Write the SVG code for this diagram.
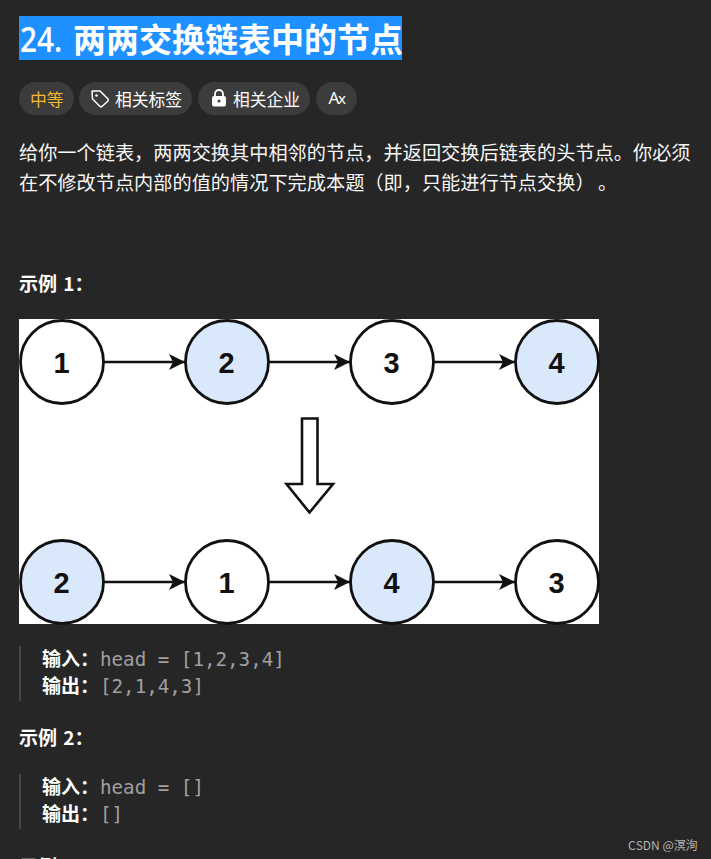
<svg xmlns="http://www.w3.org/2000/svg" width="711" height="859" viewBox="0 0 711 859">
<style>
text{font-family:"Noto Sans CJK SC","Noto Sans",sans-serif;fill:#fff;font-kerning:none;font-feature-settings:"chws" 0,"halt" 0,"palt" 0}
.body{font-size:19.2px;fill:#f7f7f7}
.b{font-size:19px;font-weight:700}
.c{font-family:"DejaVu Sans Mono",monospace;font-size:19.2px;fill:#a0a0a0}
.tag{font-size:16.8px}
.pill{fill:#3c3c3c}
.n{stroke:#111;stroke-width:2.8}
.w{fill:#fff}.l{fill:#dae8fc}
.num{font-family:"Liberation Sans",sans-serif;font-size:29px;font-weight:700;fill:#111;text-anchor:middle}
.e{stroke:#111;stroke-width:2.6;fill:none;marker-end:url(#a)}
</style>
<defs><marker id="a" markerUnits="userSpaceOnUse" markerWidth="18" markerHeight="18" refX="16" refY="9" orient="auto"><path d="M0 1L16 9L0 17L4 9Z" fill="#111"/></marker></defs>
<rect width="711" height="859" fill="#262626"/>
<rect x="19" y="16" width="383" height="44" fill="#1e90ff"/>
<text x="20" y="52" font-size="34" font-weight="600" textLength="42" lengthAdjust="spacingAndGlyphs" style="font-family:'Open Sans',sans-serif">24.</text>
<text x="73" y="52" font-size="33" font-weight="700">两两交换链表中的节点</text>
<g id="tag-level"><rect class="pill" x="19" y="82" width="55" height="33" rx="16.5"/><text class="tag" x="30" y="106" style="fill:#f5b82e">中等</text></g>
<g id="tag-labels"><rect class="pill" x="79" y="82" width="113" height="33" rx="16.5"/><path d="M92 91.500Q92 91 93 91L100 91L108 99Q108.500 100 108 101L102 106.500Q101 107 100 106.500L92.500 99Z" fill="none" stroke="#fff" stroke-width="1.500"/><circle cx="96.500" cy="95.500" r="1.300" fill="#fff"/><text class="tag" x="115" y="106">相关标签</text></g>
<g id="tag-company"><rect class="pill" x="198" y="82" width="112" height="33" rx="16.5"/><path d="M215 97v-3a4 4 0 0 1 8 0v3" fill="none" stroke="#fff" stroke-width="1.800"/><rect x="212" y="96" width="14" height="10.500" rx="2" fill="#fff"/><circle cx="219" cy="101" r="1.500" fill="#3c3c3c"/><text class="tag" x="233" y="106">相关企业</text></g>
<g id="tag-font"><rect class="pill" x="316" y="82" width="41" height="33" rx="16.5"/><text x="328.500" y="104" font-size="17" style="font-family:'Noto Sans',sans-serif">A</text><text x="338" y="104" font-size="15" style="font-family:'Noto Sans',sans-serif">x</text></g>
<text class="body" x="19" y="160">给你一个链表，两两交换其中相邻的节点，并返回交换后链表的头节点。你必须</text>
<text class="body" x="19" y="190">在不修改节点内部的值的情况下完成本题（即，只能进行节点交换）<tspan x="598">。</tspan></text>
<text class="b" x="19" y="291" word-spacing="2">示例 1：</text>
<rect x="19" y="319" width="580" height="305" fill="#fff"/>
<g id="connectors">
<path class="e" d="M104 362H185"/><path class="e" d="M269 362H350"/><path class="e" d="M434 362H515"/>
<path class="e" d="M104 582H185"/><path class="e" d="M269 582H350"/><path class="e" d="M434 582H515"/>
</g>
<g id="n1"><circle class="n w" cx="62" cy="362" r="41.500"/><text class="num" x="61.500" y="372.500">1</text></g>
<g id="n2"><circle class="n l" cx="227" cy="362" r="41.500"/><text class="num" x="226.500" y="372.500">2</text></g>
<g id="n3"><circle class="n w" cx="392" cy="362" r="41.500"/><text class="num" x="391.500" y="372.500">3</text></g>
<g id="n4"><circle class="n l" cx="557" cy="362" r="41.500"/><text class="num" x="556.500" y="372.500">4</text></g>
<g id="down-arrow"><path d="M302 418.500H317.500V484H333L309.500 512.500L286.500 484H302Z" fill="#fff" stroke="#111" stroke-width="2.600"/></g>
<g id="m2"><circle class="n l" cx="62" cy="582" r="41.500"/><text class="num" x="61.500" y="592.500">2</text></g>
<g id="m1"><circle class="n w" cx="227" cy="582" r="41.500"/><text class="num" x="226.500" y="592.500">1</text></g>
<g id="m4"><circle class="n l" cx="392" cy="582" r="41.500"/><text class="num" x="391.500" y="592.500">4</text></g>
<g id="m3"><circle class="n w" cx="557" cy="582" r="41.500"/><text class="num" x="556.500" y="592.500">3</text></g>
<rect x="19" y="646" width="2" height="55" fill="#474747"/>
<text class="b" x="42" y="666">输入：</text><text class="c" x="100" y="666">head = [1,2,3,4]</text>
<text class="b" x="42" y="693">输出：</text><text class="c" x="100" y="693">[2,1,4,3]</text>
<text class="b" x="19" y="745" word-spacing="2">示例 2：</text>
<rect x="19" y="774" width="2" height="55" fill="#474747"/>
<text class="b" x="42" y="794">输入：</text><text class="c" x="100" y="794">head = []</text>
<text class="b" x="42" y="821">输出：</text><text class="c" x="100" y="821">[]</text>
<text class="b" x="19" y="874" word-spacing="2">示例 3：</text>
<text x="628" y="850" font-size="12" style="fill:#b4b4b4">CSDN @溟洵</text>
</svg>
